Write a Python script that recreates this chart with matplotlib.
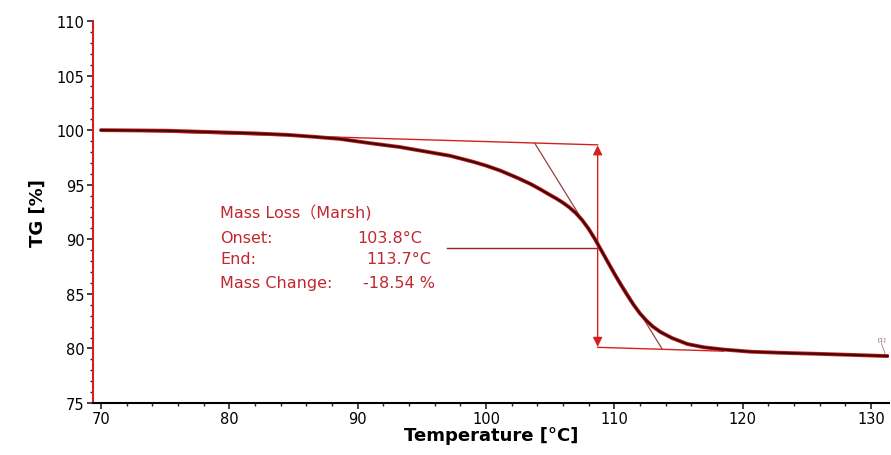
import matplotlib
matplotlib.use("Agg")
import matplotlib.pyplot as plt
from matplotlib.ticker import MultipleLocator

plt.rcParams['font.family'] = ['DejaVu Sans', 'Noto Sans CJK SC']

# TG curve
temperature = [70, 75, 79.3, 82, 84.5, 86.5, 88.6, 91, 93.3, 95, 97.2, 99, 100, 101.1, 102.5,
               103.5, 104.2, 105.0, 105.5, 106.0, 106.5, 107.0, 107.5, 108.0, 108.5, 109.0, 109.5, 110, 110.5,
               111, 111.5, 112, 112.5, 113, 113.6, 114.5, 115.7, 117, 118.5, 120.6, 123, 126, 130, 131.3]
tg = [100.0, 99.95, 99.8, 99.7, 99.57, 99.4, 99.2, 98.8, 98.45, 98.1, 97.65, 97.1, 96.75, 96.3, 95.6,
      95.05, 94.6, 94.05, 93.72, 93.35, 92.92, 92.4, 91.75, 90.95, 90.0, 88.95, 87.9, 86.85, 85.85,
      84.9, 84.0, 83.2, 82.55, 82.0, 81.5, 80.95, 80.4, 80.1, 79.9, 79.7, 79.6, 79.5, 79.35, 79.3]

# evaluation construction
inflect_t = 108.7
upper_base_t = [70, 108.7]
upper_base_tg = [100.0, 98.65]
lower_base_t = [108.7, 118.5]
lower_base_tg = [80.1, 79.75]
tangent_t = [103.8, 113.7]
tangent_tg = [98.8, 80.0]
leader_t = [97.0, 108.7]
leader_tg = [89.2, 89.2]

labels_left = ["Mass Loss\uff08Marsh)", "Onset:", "End:", "Mass Change:"]
labels_right = ["", "103.8\u00b0C", "113.7\u00b0C", "-18.54 %"]
label_y = [92.5, 90.2, 88.2, 86.05]
value_x = [None, 89.95, 90.65, 90.4]

red = "#d42020"
txt_red = "#c0282f"

fig = plt.figure(figsize=(8.91, 4.56), dpi=100)
ax = fig.add_axes([93/891, 1 - 404/456, (889 - 93)/891, (404 - 22)/456])

ax.set_xlim(69.38, 131.4)
ax.set_ylim(75, 110)

ax.plot(upper_base_t, upper_base_tg, color=red, lw=1.0, zorder=2)
ax.plot(lower_base_t, lower_base_tg, color=red, lw=1.0, zorder=2)
ax.plot(tangent_t, tangent_tg, color="#9a4040", lw=0.9, zorder=2)
ax.plot(leader_t, leader_tg, color="#a02020", lw=1.0, zorder=2)
ax.plot(temperature, tg, color=red, lw=2.8, zorder=3, solid_capstyle='round', solid_joinstyle='round')
ax.plot(temperature, tg, color="#3e0a0a", lw=1.6, zorder=4, solid_capstyle='round', solid_joinstyle='round')

ax.annotate("", xy=(inflect_t, upper_base_tg[1] - 0.05), xytext=(inflect_t, lower_base_tg[0] + 0.05),
            arrowprops=dict(arrowstyle="<|-|>", color=red, lw=1.0, mutation_scale=14,
                            shrinkA=0, shrinkB=0), zorder=3)

for lab, y in zip(labels_left, label_y):
    ax.text(79.3, y, lab, color=txt_red, fontsize=11.5, va='center', ha='left')
for lab, x, y in zip(labels_right, value_x, label_y):
    if lab:
        ax.text(x, y, lab, color=txt_red, fontsize=11.5, va='center', ha='left')

ax.text(130.85, 80.9, "[1]", color="#a05050", fontsize=4.5, ha='center', va='center')
ax.plot([130.8, 131.1], [80.5, 79.5], color="#b06060", lw=0.5)

for s in ['top', 'right']:
    ax.spines[s].set_visible(False)
ax.spines['left'].set_color("#d42020")
ax.spines['left'].set_linewidth(1.5)
ax.spines['bottom'].set_color("black")
ax.spines['bottom'].set_linewidth(1.5)

ax.xaxis.set_major_locator(MultipleLocator(10))
ax.xaxis.set_minor_locator(MultipleLocator(2))
ax.yaxis.set_major_locator(MultipleLocator(5))
ax.yaxis.set_minor_locator(MultipleLocator(1))
ax.tick_params(axis='both', which='major', length=4, width=1.2, color='#222222', labelsize=10.5, pad=2)
ax.tick_params(axis='both', which='minor', length=2, width=1.0, color='#222222')

ax.set_xlabel("Temperature [\u00b0C]", fontsize=13, fontweight='bold', labelpad=0)
ax.set_ylabel("TG [%]", fontsize=13, fontweight='bold', labelpad=7)

fig.savefig("out.png", dpi=100)
